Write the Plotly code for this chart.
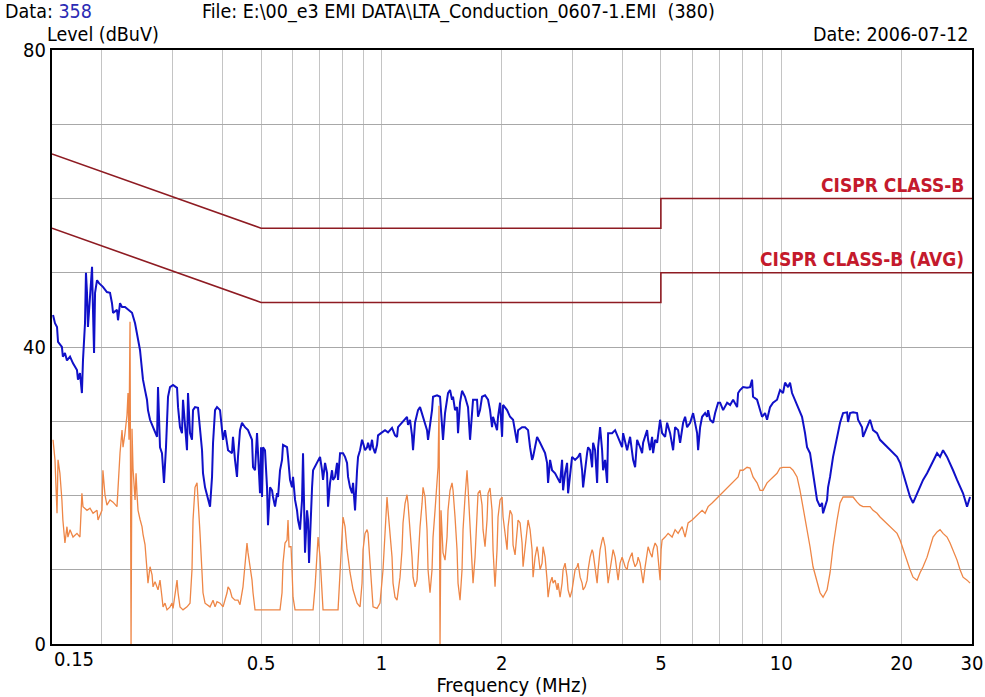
import plotly.graph_objects as go

# ---------------- data ----------------
# Peak trace (blue): frequency in MHz, level in dBuV
peak_freq = [
    0.1509, 0.1526, 0.1544, 0.1553, 0.1588, 0.1597, 0.1616, 0.1635, 0.1664, 0.1693,
    0.1732, 0.1742, 0.1762, 0.1782, 0.1793, 0.1814, 0.1824, 0.1835, 0.1845, 0.1856,
    0.1878, 0.1889, 0.1900, 0.1911, 0.1922, 0.1944, 0.1966, 0.2011, 0.2058, 0.2095,
    0.2119, 0.2132, 0.2181, 0.2194, 0.2219, 0.2245, 0.2284, 0.2324, 0.2378, 0.2420,
    0.2462, 0.2490, 0.2519, 0.2533, 0.2563, 0.2592, 0.2607, 0.2638, 0.2684, 0.2747,
    0.2762, 0.2794, 0.2826, 0.2843, 0.2859, 0.2892, 0.2926, 0.2960, 0.3012, 0.3082,
    0.3100, 0.3135, 0.3171, 0.3190, 0.3227, 0.3264, 0.3283, 0.3321, 0.3359, 0.3379,
    0.3418, 0.3478, 0.3559, 0.3579, 0.3621, 0.3684, 0.3727, 0.3770, 0.3792, 0.3836,
    0.3880, 0.3948, 0.4017, 0.4063, 0.4134, 0.4229, 0.4254, 0.4303, 0.4353, 0.4378,
    0.4429, 0.4480, 0.4558, 0.4638, 0.4746, 0.4774, 0.4829, 0.4885, 0.4913, 0.4970,
    0.4999, 0.5028, 0.5057, 0.5115, 0.5175, 0.5204, 0.5265, 0.5326, 0.5357, 0.5419,
    0.5482, 0.5513, 0.5577, 0.5642, 0.5674, 0.5807, 0.5840, 0.5908, 0.5976, 0.6011,
    0.6081, 0.6151, 0.6187, 0.6258, 0.6331, 0.6367, 0.6404, 0.6441, 0.6516, 0.6553,
    0.6591, 0.6668, 0.6707, 0.6746, 0.6903, 0.7023, 0.7104, 0.7145, 0.7228, 0.7312,
    0.7354, 0.7439, 0.7525, 0.7569, 0.7656, 0.7745, 0.7790, 0.7880, 0.8017, 0.8110,
    0.8204, 0.8252, 0.8347, 0.8444, 0.8493, 0.8591, 0.8691, 0.8741, 0.8842, 0.8944,
    0.8996, 0.9100, 0.9206, 0.9259, 0.9366, 0.9475, 0.9529, 0.9640, 0.9751, 0.9808,
    1.0035, 1.0210, 1.0388, 1.0630, 1.0815, 1.0941, 1.1004, 1.1260, 1.1456, 1.1589,
    1.1656, 1.1791, 1.1928, 1.1997, 1.2136, 1.2347, 1.2491, 1.2709, 1.3005, 1.3080,
    1.3231, 1.3384, 1.3462, 1.3776, 1.4015, 1.4177, 1.4259, 1.4425, 1.4592, 1.4676,
    1.4846, 1.5018, 1.5105, 1.5280, 1.5457, 1.5546, 1.5726, 1.5908, 1.6186, 1.6468,
    1.6659, 1.6852, 1.6950, 1.7345, 1.7445, 1.7646, 1.7851, 1.8162, 1.8479, 1.8693,
    1.8910, 1.9019, 1.9462, 1.9575, 1.9804, 2.0034, 2.0149, 2.0619, 2.0978, 2.1344,
    2.1591, 2.1841, 2.1968, 2.2480, 2.2872, 2.3270, 2.3540, 2.3813, 2.3951, 2.4509,
    2.4936, 2.5371, 2.5665, 2.5962, 2.6112, 2.6414, 2.6720, 2.7186, 2.7660, 2.7980,
    2.8304, 2.8468, 2.8798, 2.9132, 2.9300, 2.9639, 2.9983, 3.0505, 3.1037, 3.1400,
    3.1764, 3.1948, 3.2318, 3.2692, 3.2881, 3.3262, 3.3648, 3.3842, 3.4234, 3.4631,
    3.4831, 3.5234, 3.5642, 3.5848, 3.6264, 3.6684, 3.6896, 3.7756, 3.8414, 3.9084,
    3.9994, 4.0226, 4.1163, 4.1880, 4.2610, 4.3104, 4.3604, 4.4363, 4.4877, 4.5137,
    4.6189, 4.6456, 4.6993, 4.7538, 4.7813, 4.8367, 4.8927, 4.9777, 5.0354, 5.1232,
    5.1826, 5.2729, 5.3340, 5.3649, 5.4270, 5.5217, 5.5855, 5.6829, 5.7488, 5.8154,
    5.9167, 5.9853, 6.0199, 6.1602, 6.1958, 6.2675, 6.3401, 6.4507, 6.5255, 6.5632,
    6.6391, 6.7549, 6.8332, 6.9523, 7.0328, 7.1555, 7.3223, 7.4497, 7.5796, 7.7563,
    7.8012, 7.8886, 8.0262, 8.2133, 8.3560, 8.4528, 8.5017, 8.6999, 8.8512, 8.9538,
    9.1099, 9.2155, 9.3759, 9.5394, 9.7618, 9.9312, 10.104, 10.222, 10.400, 10.520,
    10.642, 10.828, 11.016, 11.272, 11.469, 11.602, 11.803, 11.940, 12.009, 12.148,
    12.289, 12.505, 12.650, 12.723, 12.871, 13.020, 13.095, 13.246, 13.477, 13.791,
    14.031, 14.276, 14.609, 14.693, 14.863, 15.122, 15.475, 15.564, 15.926, 16.019,
    16.392, 16.677, 16.968, 17.363, 17.665, 17.973, 18.392, 18.713, 19.039, 19.483,
    19.823, 20.169, 20.639, 20.998, 21.364, 21.862, 22.243, 22.631, 23.159, 23.562,
    23.973, 24.532, 24.958, 25.393, 25.985, 26.437, 26.898, 27.525, 28.005, 28.493,
    29.158, 29.665,
]
peak_level = [
    44.3, 43.2, 42.7, 40.7, 40.0, 38.7, 39.2, 38.2, 38.7, 37.8,
    36.9, 35.6, 36.5, 33.8, 38.2, 43.2, 50.0, 47.3, 42.7, 45.0,
    49.0, 50.8, 44.6, 39.2, 47.3, 49.0, 48.6, 48.1, 47.4, 47.3,
    45.9, 44.6, 45.0, 43.6, 45.9, 45.4, 45.4, 45.0, 44.6, 43.2,
    41.3, 39.6, 36.9, 35.6, 34.2, 32.9, 31.5, 30.2, 29.2, 27.9,
    34.6, 26.5, 25.7, 23.0, 21.7, 26.5, 33.3, 34.6, 34.9, 34.5,
    31.9, 29.2, 28.4, 32.9, 28.8, 26.1, 33.8, 28.4, 27.5, 31.5,
    31.9, 31.8, 26.1, 23.0, 21.1, 19.4, 18.5, 22.5, 27.1, 31.5,
    31.9, 31.5, 27.5, 28.8, 26.1, 25.7, 27.9, 24.8, 22.5, 25.2,
    28.8, 29.8, 29.2, 28.8, 27.5, 23.8, 23.4, 28.4, 26.1, 20.3,
    26.5, 19.8, 26.5, 26.1, 21.1, 16.0, 21.1, 20.7, 19.8, 18.5,
    20.3, 19.8, 23.4, 24.8, 26.8, 26.5, 25.2, 22.1, 21.1, 22.5,
    19.4, 18.0, 16.7, 15.4, 19.4, 25.7, 19.0, 12.3, 18.0, 16.7,
    10.9, 19.0, 21.1, 23.4, 24.4, 25.2, 23.4, 22.1, 24.4, 23.0,
    18.5, 21.7, 23.4, 22.1, 22.5, 24.4, 22.1, 25.7, 25.7, 25.2,
    24.4, 22.5, 21.1, 20.3, 21.7, 18.0, 23.4, 25.2, 26.1, 27.5,
    27.1, 26.1, 26.5, 27.1, 26.1, 27.5, 26.5, 25.7, 26.8, 28.1,
    28.5, 28.8, 28.5, 29.1, 28.1, 27.9, 29.2, 29.8, 30.2, 30.6,
    29.5, 30.2, 28.1, 26.1, 29.8, 31.5, 31.9, 30.6, 28.8, 27.5,
    29.2, 31.5, 33.3, 33.5, 33.3, 28.8, 27.5, 31.1, 32.9, 33.8,
    34.2, 32.9, 33.3, 31.5, 31.9, 28.4, 32.5, 34.1, 33.3, 31.9,
    27.5, 31.1, 32.9, 32.9, 30.6, 31.5, 33.3, 33.5, 32.9, 31.5,
    29.2, 30.6, 28.8, 30.6, 32.5, 27.9, 32.2, 31.5, 30.6, 30.2,
    28.4, 27.1, 28.8, 29.2, 29.2, 28.8, 26.5, 24.8, 25.2, 27.9,
    27.1, 26.1, 25.7, 24.4, 21.7, 24.8, 23.4, 23.0, 22.1, 21.7,
    24.8, 20.7, 23.0, 24.4, 20.3, 22.5, 25.2, 24.8, 25.2, 25.7,
    23.4, 21.1, 23.8, 25.7, 26.5, 26.1, 23.8, 27.1, 26.1, 21.7,
    26.5, 29.2, 26.1, 23.4, 24.8, 21.7, 28.4, 28.4, 28.8, 27.9,
    26.5, 28.4, 26.1, 27.9, 24.8, 23.8, 27.5, 26.5, 25.7, 27.1,
    28.8, 27.5, 26.1, 27.9, 25.7, 27.5, 27.1, 30.2, 28.4, 27.9,
    29.8, 28.4, 27.1, 26.1, 29.2, 28.8, 27.1, 29.8, 30.6, 29.2,
    29.8, 30.6, 31.1, 28.4, 26.1, 29.2, 30.6, 31.1, 30.6, 31.5,
    30.2, 29.8, 31.1, 32.5, 32.5, 31.5, 32.5, 32.2, 32.9, 31.9,
    33.8, 34.2, 34.6, 34.5, 34.6, 35.6, 33.3, 32.9, 31.5, 30.6,
    31.1, 30.2, 31.9, 32.5, 32.9, 34.2, 33.8, 35.2, 34.6, 35.2,
    33.8, 32.9, 31.9, 30.6, 28.4, 26.5, 25.7, 23.8, 22.5, 20.7,
    19.4, 18.5, 19.0, 17.6, 18.5, 19.4, 21.1, 22.5, 25.2, 27.9,
    29.8, 31.1, 31.2, 29.9, 31.1, 31.2, 31.1, 30.2, 29.2, 27.9,
    29.2, 30.2, 28.8, 28.4, 27.5, 27.1, 26.5, 26.1, 25.7, 25.2,
    24.4, 23.0, 21.1, 19.8, 19.0, 20.3, 21.1, 22.1, 23.0, 23.8,
    24.8, 25.7, 25.2, 26.1, 25.2, 24.4, 23.4, 22.1, 21.1, 20.3,
    18.5, 19.8,
]

# Average trace (orange)
avg_freq = [
    0.1509, 0.1526, 0.1535, 0.1544, 0.1553, 0.1570, 0.1588, 0.1597, 0.1616, 0.1635,
    0.1644, 0.1664, 0.1693, 0.1732, 0.1762, 0.1782, 0.1793, 0.1835, 0.1867, 0.1900,
    0.1944, 0.1955, 0.2000, 0.2011, 0.2035, 0.2058, 0.2095, 0.2132, 0.2181, 0.2194,
    0.2219, 0.2245, 0.2258, 0.2284, 0.2310, 0.2324, 0.2337, 0.2351, 0.2365, 0.2378,
    0.2392, 0.2420, 0.2434, 0.2448, 0.2462, 0.2490, 0.2519, 0.2533, 0.2563, 0.2592,
    0.2607, 0.2638, 0.2669, 0.2684, 0.2715, 0.2762, 0.2794, 0.2826, 0.2843, 0.2876,
    0.2909, 0.2960, 0.2994, 0.3012, 0.3047, 0.3082, 0.3100, 0.3135, 0.3190, 0.3264,
    0.3321, 0.3359, 0.3379, 0.3418, 0.3458, 0.3478, 0.3518, 0.3559, 0.3579, 0.3621,
    0.3727, 0.3792, 0.3836, 0.3880, 0.3948, 0.4017, 0.4063, 0.4110, 0.4134, 0.4181,
    0.4229, 0.4303, 0.4378, 0.4429, 0.4506, 0.4558, 0.4611, 0.4638, 0.4692, 0.4746,
    0.4774, 0.4829, 0.5577, 0.5642, 0.5674, 0.5740, 0.5807, 0.5840, 0.5874, 0.5942,
    0.5976, 0.6011, 0.6081, 0.6746, 0.6824, 0.6903, 0.6943, 0.7023, 0.7104, 0.7145,
    0.7790, 0.7880, 0.7971, 0.8017, 0.8110, 0.8204, 0.8347, 0.8493, 0.8691, 0.8842,
    0.8944, 0.8996, 0.9100, 0.9206, 0.9259, 0.9366, 0.9475, 0.9529, 0.9751, 0.9920,
    1.0093, 1.0210, 1.0328, 1.0388, 1.0508, 1.0630, 1.0691, 1.0815, 1.0941, 1.1004,
    1.1131, 1.1260, 1.1325, 1.1456, 1.1589, 1.1656, 1.1791, 1.1928, 1.1997, 1.2136,
    1.2276, 1.2347, 1.2491, 1.2636, 1.2709, 1.2856, 1.3005, 1.3080, 1.3231, 1.3384,
    1.3462, 1.3618, 1.3776, 1.3855, 1.3935, 1.4015, 1.4096, 1.4177, 1.4259, 1.4425,
    1.4592, 1.4676, 1.4846, 1.5018, 1.5105, 1.5280, 1.5457, 1.5546, 1.5726, 1.5908,
    1.6000, 1.6186, 1.6373, 1.6468, 1.6659, 1.6852, 1.6950, 1.7146, 1.7345, 1.7445,
    1.7646, 1.7851, 1.7954, 1.8162, 1.8372, 1.8479, 1.8693, 1.8910, 1.9019, 1.9239,
    1.9462, 1.9575, 1.9804, 2.0034, 2.0149, 2.0383, 2.0619, 2.0738, 2.0978, 2.1221,
    2.1344, 2.1591, 2.1841, 2.1968, 2.2222, 2.2480, 2.2610, 2.2872, 2.3137, 2.3270,
    2.3540, 2.3813, 2.3951, 2.4228, 2.4509, 2.4651, 2.4936, 2.5225, 2.5371, 2.5665,
    2.5962, 2.6112, 2.6414, 2.6720, 2.6875, 2.7186, 2.7501, 2.7660, 2.7980, 2.8304,
    2.8468, 2.8798, 2.9132, 2.9300, 2.9639, 2.9983, 3.0156, 3.0505, 3.0859, 3.1037,
    3.1400, 3.1764, 3.1948, 3.2318, 3.2692, 3.2881, 3.3262, 3.3648, 3.3842, 3.4234,
    3.4631, 3.4831, 3.5234, 3.5642, 3.5848, 3.6264, 3.6684, 3.6896, 3.7323, 3.7756,
    3.7974, 3.8414, 3.8859, 3.9084, 3.9536, 3.9994, 4.0226, 4.0692, 4.1163, 4.1401,
    4.1880, 4.2365, 4.2610, 4.3104, 4.3604, 4.3856, 4.4363, 4.4877, 4.5137, 4.5660,
    4.6189, 4.6456, 4.6993, 4.7538, 4.7813, 4.8367, 4.8927, 4.9210, 4.9777, 5.0065,
    5.0354, 5.1232, 5.2125, 5.3340, 5.4270, 5.5217, 5.6502, 5.7488, 5.8490, 5.9853,
    6.0896, 6.1958, 6.3401, 6.4507, 6.5632, 6.7160, 6.8332, 6.9523, 7.1143, 7.2384,
    7.3646, 7.5360, 7.6675, 7.8012, 7.8886, 8.0262, 8.2133, 8.3560, 8.5017, 8.6999,
    8.8512, 9.0056, 9.2155, 9.3759, 9.5394, 9.7618, 9.9312, 10.104, 10.340, 10.520,
    10.703, 10.953, 11.143, 11.337, 11.602, 11.803, 12.009, 12.289, 12.505, 12.723,
    13.020, 13.246, 13.477, 13.791, 14.031, 14.276, 14.609, 14.863, 15.122, 15.475,
    15.744, 16.019, 16.392, 16.677, 16.968, 17.363, 17.665, 17.973, 18.392, 18.713,
    19.039, 19.483, 19.823, 20.169, 20.639, 20.998, 21.364, 21.862, 22.243, 22.631,
    23.159, 23.562, 23.973, 24.532, 24.958, 25.393, 25.985, 26.437, 26.898, 27.525,
    28.005, 28.493, 29.158, 29.665,
]
avg_level = [
    27.5, 24.8, 21.1, 17.6, 24.8, 23.0, 19.4, 16.7, 13.6, 15.8,
    14.4, 15.4, 14.4, 14.9, 14.4, 20.3, 18.5, 18.0, 18.3, 17.6,
    18.0, 16.7, 18.0, 23.4, 20.1, 18.7, 19.4, 19.1, 18.5, 21.1,
    25.7, 28.8, 26.5, 28.4, 30.8, 33.8, 27.5, 43.4, 0.0, 29.0,
    23.6, 19.4, 23.0, 20.1, 18.0, 16.8, 15.8, 14.8, 13.4, 10.0,
    8.2, 10.4, 9.3, 7.7, 8.4, 7.3, 8.6, 6.3, 5.0, 5.5,
    4.6, 5.0, 5.5, 4.8, 6.9, 8.6, 6.9, 5.0, 4.6, 5.0,
    5.5, 10.0, 16.7, 21.1, 21.7, 18.7, 14.9, 9.6, 6.9, 5.5,
    5.0, 5.9, 5.0, 5.7, 5.5, 5.0, 5.9, 6.9, 7.7, 7.3,
    6.3, 5.9, 5.9, 5.3, 7.7, 11.3, 13.6, 12.3, 10.4, 8.6,
    6.9, 4.6, 4.6, 6.9, 10.9, 13.6, 14.0, 16.7, 13.1, 13.1,
    10.0, 6.3, 4.6, 4.6, 7.7, 12.7, 14.4, 11.7, 6.3, 4.6,
    4.6, 9.0, 14.4, 17.1, 15.8, 12.7, 9.6, 7.3, 5.5, 5.0,
    8.2, 12.7, 14.9, 15.4, 14.9, 10.9, 6.3, 5.0, 4.8, 5.5,
    10.0, 15.4, 19.8, 18.0, 14.9, 11.7, 8.2, 6.3, 5.9, 6.9,
    9.0, 12.7, 16.3, 18.9, 20.1, 18.9, 15.8, 11.7, 9.0, 7.7,
    8.6, 11.7, 15.8, 18.9, 21.1, 19.8, 15.4, 10.0, 6.9, 10.0,
    14.4, 18.0, 21.1, 23.8, 32.1, 0.0, 18.0, 14.4, 12.3, 11.3,
    14.4, 18.0, 20.7, 21.7, 20.7, 17.1, 12.7, 8.2, 5.9, 10.0,
    15.4, 19.8, 23.4, 21.1, 16.3, 10.0, 8.2, 11.7, 17.1, 20.3,
    20.7, 18.7, 15.4, 13.1, 16.7, 20.3, 21.0, 18.0, 12.7, 7.7,
    12.7, 17.1, 19.4, 19.8, 17.1, 14.4, 12.7, 15.8, 18.0, 17.4,
    13.3, 12.0, 15.8, 16.7, 16.3, 13.6, 10.4, 12.7, 15.4, 16.7,
    15.4, 12.7, 9.0, 11.7, 13.1, 12.3, 10.0, 10.9, 13.1, 11.7,
    8.6, 6.3, 8.2, 9.0, 8.2, 8.6, 7.3, 8.2, 6.3, 8.2,
    10.0, 10.9, 9.0, 7.3, 6.3, 7.3, 8.2, 10.0, 10.4, 10.9,
    9.0, 8.2, 7.3, 7.7, 8.6, 10.0, 11.7, 12.7, 12.3, 10.0,
    8.2, 10.0, 12.7, 14.0, 14.4, 13.1, 10.4, 8.2, 10.0, 12.3,
    12.7, 11.7, 10.0, 8.6, 10.9, 11.7, 11.3, 10.4, 10.0, 10.9,
    11.7, 12.3, 11.3, 10.4, 10.9, 11.7, 10.9, 9.0, 8.2, 10.4,
    12.7, 13.1, 12.3, 11.7, 12.7, 13.6, 13.1, 11.7, 8.6, 12.7,
    14.0, 14.4, 14.9, 14.4, 15.4, 14.9, 15.8, 14.4, 16.3, 16.7,
    17.1, 17.6, 18.0, 17.6, 18.5, 19.0, 19.4, 19.8, 20.3, 20.7,
    21.1, 21.7, 22.1, 22.5, 23.4, 23.4, 23.8, 23.7, 22.5, 21.7,
    20.7, 20.7, 21.7, 22.1, 22.5, 23.0, 23.7, 23.8, 23.8, 23.8,
    23.4, 22.5, 20.7, 18.5, 15.8, 13.1, 10.4, 8.2, 6.9, 6.3,
    7.3, 9.6, 13.1, 16.7, 19.0, 19.8, 19.8, 19.8, 19.8, 19.1,
    18.7, 18.5, 18.5, 18.5, 18.0, 17.6, 17.1, 16.7, 16.3, 15.8,
    15.4, 14.9, 14.0, 12.7, 11.3, 10.0, 9.0, 8.6, 9.6, 10.4,
    11.7, 13.1, 14.4, 15.1, 15.4, 14.9, 14.4, 13.6, 12.7, 11.3,
    10.0, 9.0, 8.6, 8.2,
]

# CISPR 22 Class B limit lines
limit_freq = [0.15, 0.5, 5, 5, 30]
qp_limit = [66, 56, 56, 60, 60]
avg_limit = [56, 46, 46, 50, 50]

# Axis ticks / grid
x_grid = [0.15, 0.2, 0.3, 0.4, 0.5, 0.6, 0.7, 0.8, 0.9, 1, 2, 3, 4, 5, 6, 7, 8, 9, 10, 20, 30]
x_labels = ["", "", "", "", "0.5", "", "", "", "", "1", "2", "", "", "5", "", "", "", "", "10", "20", "30"]
y_grid = [0, 10, 20, 30, 40, 50, 60, 70, 80]
y_labels = ["0", "", "", "", "40", "", "", "", "80"]

FONT = "DejaVu Sans Condensed, DejaVu Sans, sans-serif"
FS = 20
HFS = 19.5
LIMIT_COLOR = "#8e1b22"
LABEL_COLOR = "#c41a2c"

fig = go.Figure()
fig.add_trace(go.Scatter(x=limit_freq, y=qp_limit, mode="lines",
                         line=dict(color=LIMIT_COLOR, width=1.6), hoverinfo="skip"))
fig.add_trace(go.Scatter(x=limit_freq, y=avg_limit, mode="lines",
                         line=dict(color=LIMIT_COLOR, width=1.6), hoverinfo="skip"))
fig.add_trace(go.Scatter(x=peak_freq, y=peak_level, mode="lines",
                         line=dict(color="#1010c8", width=2)))
fig.add_trace(go.Scatter(x=avg_freq, y=avg_level, mode="lines",
                         line=dict(color="#ee8646", width=1.3)))

fig.update_layout(
    width=985, height=697, autosize=False,
    margin=dict(l=52, r=13, t=50, b=53, autoexpand=False),
    paper_bgcolor="white", plot_bgcolor="white",
    showlegend=False,
    font=dict(family=FONT, size=FS, color="black"),
    xaxis=dict(
        type="log", range=[-0.82391, 1.47712], automargin=False,
        tickmode="array", tickvals=x_grid, ticktext=x_labels,
        showgrid=True, gridcolor="#c4c4c4", gridwidth=1,
        showline=True, linecolor="black", linewidth=2, mirror=True,
        ticks="", zeroline=False, ticklabelstandoff=0,
        tickfont=dict(family=FONT, size=FS, color="black"),
        title=dict(text="Frequency (MHz)", standoff=0,
                   font=dict(family=FONT, size=FS, color="black")),
    ),
    yaxis=dict(
        range=[0, 80], automargin=False,
        tickmode="array", tickvals=y_grid, ticktext=y_labels,
        showgrid=True, gridcolor="#a8a8a8", gridwidth=1,
        showline=True, linecolor="black", linewidth=2, mirror=True,
        ticks="", zeroline=False,
        tickfont=dict(family=FONT, size=FS, color="black"),
    ),
)

annotations = [
    dict(text="Data: <span style='color:#2b2bb4'>358</span>", xref="paper", yref="paper",
         x=-0.0533, y=1.0640, xanchor="left", yanchor="middle", showarrow=False,
         font=dict(family=FONT, size=HFS, color="black")),
    dict(text="File: E:\\00_e3 EMI DATA\\LTA_Conduction_0607-1.EMI  (380)", xref="paper", yref="paper",
         x=0.161, y=1.0640, xanchor="left", yanchor="middle", showarrow=False,
         font=dict(family=FONT, size=HFS, color="black")),
    dict(text="Level (dBuV)", xref="paper", yref="paper",
         x=-0.0076, y=1.0269, xanchor="left", yanchor="middle", showarrow=False,
         font=dict(family=FONT, size=HFS, color="black")),
    dict(text="Date: 2006-07-12", xref="paper", yref="paper",
         x=0.9978, y=1.0269, xanchor="right", yanchor="middle", showarrow=False,
         font=dict(family=FONT, size=HFS, color="black")),
    dict(text="0.15", xref="paper", yref="paper",
         x=0.0, y=0.0, xanchor="left", yanchor="top", yshift=-1, showarrow=False,
         font=dict(family=FONT, size=FS, color="black")),
    dict(text="<b>CISPR CLASS-B</b>", xref="paper", yref="y",
         x=0.993, y=60, xanchor="right", yanchor="bottom", yshift=1, showarrow=False,
         font=dict(family=FONT, size=19, color=LABEL_COLOR)),
    dict(text="<b>CISPR CLASS-B (AVG)</b>", xref="paper", yref="y",
         x=0.993, y=50, xanchor="right", yanchor="bottom", yshift=1, showarrow=False,
         font=dict(family=FONT, size=19, color=LABEL_COLOR)),
]
fig.update_layout(annotations=annotations)

fig.write_html("out.html",
               config={"responsive": False, "displayModeBar": False},
               post_script=("document.documentElement.style.overflow='hidden';"
                            "document.body.style.overflow='hidden';"
                            "document.body.style.margin='0px';"
                            "document.body.style.padding='0px';"))
